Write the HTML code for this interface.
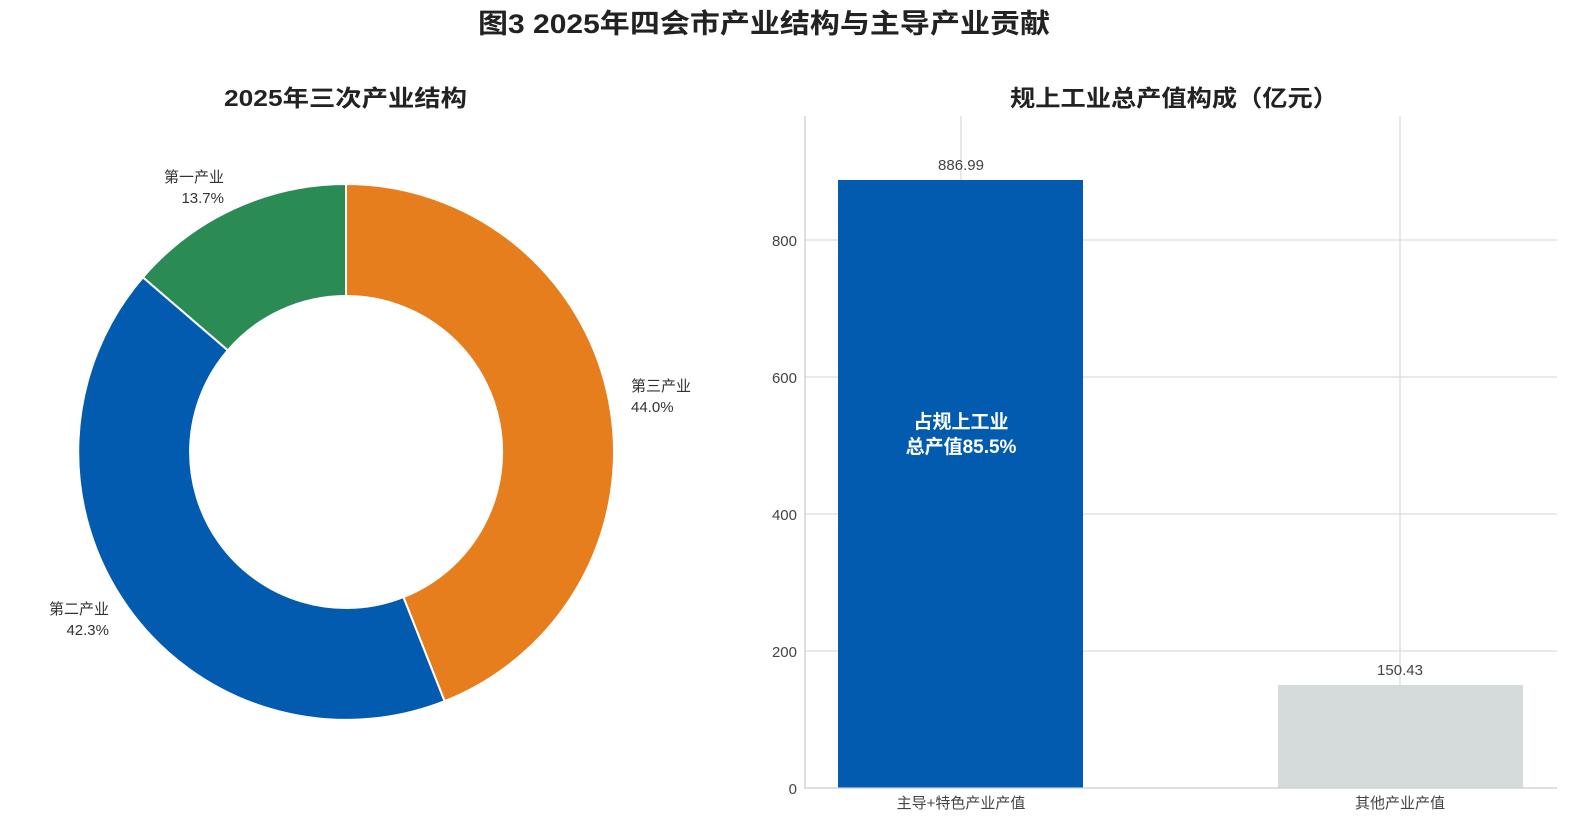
<!DOCTYPE html>
<html><head><meta charset="utf-8"><style>
html,body{margin:0;padding:0;background:#fff;}
svg text{font-family:"Liberation Sans","Noto Sans CJK SC",sans-serif;}
</style></head><body>
<svg width="1570" height="821" viewBox="0 0 1570 821" xmlns="http://www.w3.org/2000/svg">
<text x="478" y="33" textLength="572" lengthAdjust="spacingAndGlyphs" font-size="27" font-weight="bold" fill="#222">图3  2025年四会市产业结构与主导产业贡献</text>
<text x="224" y="106" textLength="243" lengthAdjust="spacingAndGlyphs" font-size="23" font-weight="bold" fill="#222">2025年三次产业结构</text>
<text x="1010" y="106" textLength="328" lengthAdjust="spacingAndGlyphs" font-size="23" font-weight="bold" fill="#222">规上工业总产值构成（亿元）</text>
<!-- donut -->
<g stroke="#fff" stroke-width="2">
<path d="M346,184 A268,268 0 0 1 444.6,701.2 L403.4,597.1 A156,156 0 0 0 346,296 Z" fill="#E67E1E"/>
<path d="M444.6,701.2 A268,268 0 0 1 142.9,277.3 L227.8,350.3 A156,156 0 0 0 403.4,597.1 Z" fill="#035BAF"/>
<path d="M142.9,277.3 A268,268 0 0 1 346,184 L346,296 A156,156 0 0 0 227.8,350.3 Z" fill="#2A8B55"/>
</g>
<g font-size="15" fill="#333">
<text x="224" y="182" text-anchor="end">第一产业</text>
<text x="224" y="203" text-anchor="end">13.7%</text>
<text x="631" y="391">第三产业</text>
<text x="631" y="412">44.0%</text>
<text x="109" y="614" text-anchor="end">第二产业</text>
<text x="109" y="635" text-anchor="end">42.3%</text>
</g>
<!-- bar chart -->
<g stroke="#dcdcdc" stroke-width="1.3">
<line x1="805" y1="651" x2="1557" y2="651"/>
<line x1="805" y1="514" x2="1557" y2="514"/>
<line x1="805" y1="377" x2="1557" y2="377"/>
<line x1="805" y1="240" x2="1557" y2="240"/>
<line x1="961" y1="116" x2="961" y2="788"/>
<line x1="1400" y1="116" x2="1400" y2="788"/>
</g>
<rect x="838" y="180" width="245" height="608" fill="#035BAF"/>
<rect x="1278" y="685" width="245" height="103" fill="#D5DBDB"/>
<line x1="805" y1="116" x2="805" y2="789" stroke="#ccc" stroke-width="1.3"/>
<line x1="805" y1="788" x2="1557" y2="788" stroke="#ccc" stroke-width="1.3"/>
<g font-size="15" fill="#444" text-anchor="end">
<text x="797" y="794">0</text>
<text x="797" y="657">200</text>
<text x="797" y="520">400</text>
<text x="797" y="383">600</text>
<text x="797" y="246">800</text>
</g>
<g font-size="15" fill="#444" text-anchor="middle">
<text x="961" y="170">886.99</text>
<text x="1400" y="675">150.43</text>
<text x="961" y="808">主导+特色产业产值</text>
<text x="1400" y="808">其他产业产值</text>
</g>
<text x="961" y="428" text-anchor="middle" font-size="19" font-weight="bold" fill="#fff">占规上工业</text>
<text x="961" y="453" text-anchor="middle" font-size="19" font-weight="bold" fill="#fff">总产值85.5%</text>
</svg>
</body></html>
